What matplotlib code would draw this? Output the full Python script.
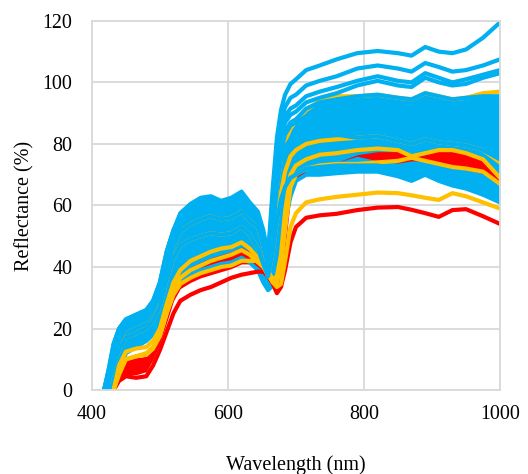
import numpy as np
import matplotlib
matplotlib.use('Agg')
import matplotlib.pyplot as plt

plt.rcParams['font.family'] = 'Liberation Serif'

# wavelength grid (nm) shared by all the spectra
wavelength = [418, 425, 432, 440, 450, 465, 480, 490, 500, 510, 520, 530, 545, 560, 575,
              590, 605, 620, 632, 644, 652, 659, 666, 672, 678, 684, 692, 700, 715, 735,
              760, 790, 820, 850, 870, 890, 910, 930, 950, 975, 1000]

# dense blue bundle (lower / upper envelope)
blue_low = [0, 0, 2, 6, 12, 14, 16, 18, 22, 28, 33, 36, 38, 39, 40, 41, 41.5, 43, 41.5, 39,
            35, 32.5, 34, 38, 46, 55, 63, 68, 70, 70, 70.5, 71, 71, 69.5, 68, 70, 68, 66.5, 65.5, 63.5, 61]
blue_high = [0, 7, 15, 20, 23, 24.5, 26, 29, 35, 45, 52, 56.5, 59.5, 61, 62, 60.5, 61, 63.5, 60, 57,
             50, 42, 58, 72, 80, 84, 87, 88, 91.5, 93.5, 94.5, 95.5, 96, 95, 94.5, 96.5, 95.5, 94.5, 95, 95.5, 95.5]

# dense red bundle (lower / upper envelope)
red_band_low = [None, None, 0, 3, 5, 5, 6, 10, 15, 22, 29, 33, 35, 36.5, 37.5, 38.5, 39.5, 41, 41, 40,
                39, 37, 35, 34, 36, 46, 62, 68, 71, 72.5, 74, 76, 74.5, 73.8, 74.5, 74.5, 73.5, 72.5, 71.5, 70.5, 68]
red_band_high = [None, None, 0, 7, 10, 10.5, 11, 13, 18, 26, 33, 37, 40, 41.5, 43, 44, 45, 46.5, 45, 43,
                 41, 39, 37, 36, 40, 52, 65, 70, 71, 72.5, 74, 76.5, 77.5, 77.5, 75.5, 76.5, 78, 77.5, 77, 75.5, 69]

# single spectra
red_low = [None, None, 0, 3, 4.5, 4, 4.5, 8, 13, 19, 25, 29, 31, 32.5, 33.5, 35, 36.5, 37.5, 38, 38.5,
           38.5, 37, 34.5, 31.5, 33.5, 39, 48, 53, 56, 56.8, 57.3, 58.5, 59.3, 59.5, 58.6, 57.5, 56.3, 58.5, 58.8, 56.5, 54]
orange_low = [None, None, 0, 6, 10, 11, 12, 14, 18, 25, 31, 34.5, 36.5, 38, 39, 40, 40.5, 42, 42, 42,
              41, 39, 35, 33.5, 34.5, 42, 53, 57.5, 61, 62, 62.8, 63.5, 64.2, 64, 63.3, 62.5, 61.8, 64, 63, 61, 59]
orange_2 = [None, None, 0, 8, 12.5, 13.5, 14, 16, 20, 28, 35, 39, 42, 43.5, 45, 46, 46.5, 48, 46, 43,
            41, 38.5, 36, 37, 44, 58, 70, 73, 75, 76.5, 77, 78, 78.5, 78, 76, 77, 78, 78, 77, 75, 69]
orange_3 = [None, None, 0, 5, 10, 11, 11.5, 13.5, 17.5, 25, 32, 36.5, 39, 40.5, 42, 43, 44, 45.5, 44, 41.5,
            40, 37.5, 35, 35, 40, 52, 66, 70, 72, 73, 73.5, 73.5, 74, 74.5, 75.5, 74.5, 73.5, 72.5, 72, 71, 67]
orange_4 = [None, 4, 10, 16, 20, 21.5, 23, 26, 31, 40, 47, 51.5, 54, 55.5, 56.5, 55.5, 56, 58, 55, 53,
            47, 40, 52, 66, 75, 81, 85, 87.5, 91, 94, 95.5, 95.5, 96, 95, 94.5, 96.5, 95.5, 94.5, 95, 96.5, 97]
orange_5 = [None, 3, 8, 13, 17, 18.5, 20, 22.5, 27, 36, 43, 47, 49, 50, 51, 50.5, 51, 53, 50.5, 46,
            41, 37, 45, 55, 64, 71, 76, 78, 80, 81, 81.5, 82, 82.5, 81, 80, 81.5, 80.5, 80, 79.5, 78, 74]
blue_mid_1 = [0, 3, 8, 13, 17, 18.5, 20, 22.5, 27, 36, 43, 47, 49, 50, 51, 50.5, 51, 53, 50.5, 46,
              41, 37, 45, 55, 62, 66, 69, 70, 72, 72.5, 73, 73, 73, 72, 71, 72, 70.5, 69, 68, 66.5, 63.5]
blue_mid_2 = [0, 4, 10, 16, 20, 21.5, 23, 26, 31, 40, 47, 51.5, 54, 55.5, 56.5, 55.5, 56, 58, 55, 53,
              47, 40, 52, 66, 75, 79, 81.5, 82, 83, 83.5, 83, 82, 82.5, 81, 80, 81.5, 80.5, 80, 79.5, 78, 75]
blue_mid_3 = [0, 5, 12, 17, 21, 22.5, 24, 27, 32, 42, 49, 53.5, 56, 57.5, 58.5, 57.5, 58, 60, 57, 55,
              49, 41, 55, 69, 78, 83, 86, 87, 89, 90.5, 92, 93, 94, 93, 92.5, 94, 93, 92, 92.5, 92, 91]
blue_top_1 = [0, 7, 15, 20, 23, 24.5, 26, 29, 35, 45, 52, 57.5, 60.5, 62.5, 63, 61.5, 62.5, 64.5, 61, 58,
              52, 44, 66, 82, 91, 96, 99.5, 101, 104, 105.5, 107.5, 109.5, 110.2, 109.5, 108.7, 111.5, 110, 109.5, 110.7, 114.5, 119.5]
blue_top_2 = [0, 6, 14, 19, 22, 23.5, 25, 28, 34, 44, 51, 56, 59.5, 61.5, 62, 60.5, 61.5, 63.5, 60, 57,
              51, 43, 63, 78, 87, 92, 95, 96, 99, 100.5, 102, 104.5, 105.5, 104.5, 103.5, 106.3, 105, 103.5, 104, 105.5, 107.5]
blue_top_3 = [0, 6, 13, 18.5, 21.5, 23, 24.5, 27.5, 33, 43, 50, 55, 58.5, 60.5, 61, 59.5, 60.5, 62.5, 59, 56,
              50, 42.5, 61, 75, 84, 89, 91.5, 92.5, 95.5, 97, 98.5, 100.5, 102, 100.5, 100, 103, 101.5, 100, 101, 102.5, 104]
blue_top_4 = [0, 5, 12, 18, 21, 22.5, 24, 27, 32.5, 42, 49, 54, 57.5, 59.5, 60, 58.5, 59.5, 61.5, 58, 55,
              49, 42, 60, 73, 82, 87, 89.5, 90.5, 93.5, 95, 96.5, 99, 100.5, 99, 98.5, 101.5, 100, 99, 99.5, 101.5, 103]

BLUE = '#00B0F0'
ORANGE = '#FFC000'
RED = '#FF0000'
LW = 3


def arr(v):
    return np.array(v, dtype=float)


wl = arr(wavelength)

fig = plt.figure(figsize=(5.28, 4.74), dpi=100)
ax = fig.add_axes([0.174, 0.177, 0.773, 0.779])

# blue bundle
ax.fill_between(wl, arr(blue_low), arr(blue_high), color=BLUE, lw=0)
ax.plot(wl, arr(blue_low), color=BLUE, lw=LW)

# red bundle and the red / orange spectra
ax.fill_between(wl, arr(red_band_low), arr(red_band_high), color=RED, lw=0)
ax.plot(wl, arr(red_low), color=RED, lw=LW)
for s in (orange_low, orange_2, orange_3, orange_4, orange_5):
    ax.plot(wl, arr(s), color=ORANGE, lw=LW)

# blue spectra drawn over them
for s in (blue_high, blue_mid_1, blue_mid_2, blue_mid_3,
          blue_top_4, blue_top_3, blue_top_2, blue_top_1):
    ax.plot(wl, arr(s), color=BLUE, lw=LW)

ax.set_xlim(400, 1000)
ax.set_ylim(0, 120)
ax.set_xticks([400, 600, 800, 1000])
ax.set_yticks(range(0, 121, 20))
ax.tick_params(length=0, labelsize=14.4)
ax.tick_params(axis='x', pad=11)
ax.tick_params(axis='y', pad=14)
ax.grid(True, color='#d9d9d9', lw=1.3)
ax.set_axisbelow(True)
for sp in ax.spines.values():
    sp.set_color('#d9d9d9')
    sp.set_linewidth(1.3)

ax.set_xlabel('Wavelength (nm)', fontsize=14.5, labelpad=22)
ax.set_ylabel('Reflectance (%)', fontsize=14.5, labelpad=6)

fig.savefig('out.png', dpi=100)
